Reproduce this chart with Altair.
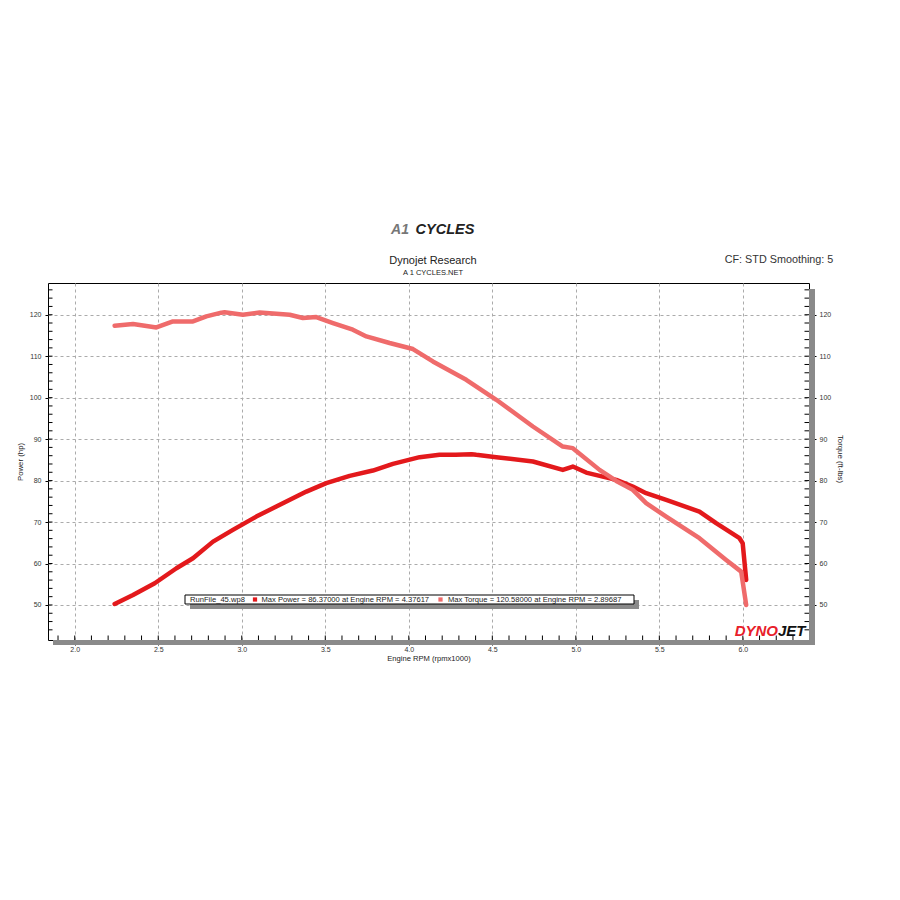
import altair as alt
import pandas as pd

FONT = "Liberation Sans"
W, H = 761, 357

# ---- data ----
rpm_power = [2.239, 2.349, 2.479, 2.609, 2.708, 2.828, 2.947, 3.087, 3.207, 3.387,
             3.506, 3.646, 3.785, 3.905, 4.065, 4.184, 4.28, 4.376, 4.404, 4.524,
             4.743, 4.922, 4.982, 5.062, 5.242, 5.341, 5.421, 5.541, 5.740, 5.840,
             5.980, 5.999, 6.020]
power_hp = [50.24, 52.41, 55.24, 58.86, 61.27, 65.28, 68.10, 71.31, 73.73, 77.35,
            79.37, 81.14, 82.42, 84.03, 85.65, 86.21, 86.25, 86.37, 86.21, 85.65,
            84.59, 82.58, 83.38, 81.93, 80.17, 78.55, 76.96, 75.34, 72.52, 69.72,
            66.10, 64.89, 56.03]

rpm_torque = [2.239, 2.349, 2.489, 2.588, 2.708, 2.788, 2.878, 2.897, 3.007, 3.107,
              3.287, 3.366, 3.446, 3.546, 3.665, 3.746, 3.885, 4.025, 4.144, 4.344,
              4.524, 4.743, 4.922, 4.982, 5.142, 5.242, 5.341, 5.421, 5.541, 5.740,
              5.900, 5.990, 6.020]
torque_ftlb = [117.34, 117.75, 116.93, 118.38, 118.38, 119.59, 120.50, 120.58, 120.00, 120.55,
               120.00, 119.20, 119.44, 117.99, 116.38, 114.76, 113.17, 111.72, 108.73, 104.31,
               99.48, 93.04, 88.21, 87.82, 82.58, 79.90, 77.76, 74.55, 71.31, 66.10,
               60.86, 58.04, 50.00]

max_power, max_power_rpm = 86.37, 4.37617
max_torque, max_torque_rpm = 120.58, 2.89687
run_file = "RunFile_45.wp8"

x_major = [2.0, 2.5, 3.0, 3.5, 4.0, 4.5, 5.0, 5.5, 6.0]
x_minor = [round(1.9 + 0.1 * i, 1) for i in range(45)]
y_major = [50, 60, 70, 80, 90, 100, 110, 120]
y_minor = list(range(44, 128, 2))

XDOM = [1.840, 6.396]
YDOM = [41.55, 127.65]

POWER_C = "#E3191C"
TORQUE_C = "#EF6B6B"

xs = alt.Scale(domain=XDOM, nice=False, zero=False)
ys = alt.Scale(domain=YDOM, nice=False, zero=False)

power_df = pd.DataFrame({"rpm": rpm_power, "val": power_hp})
torque_df = pd.DataFrame({"rpm": rpm_torque, "val": torque_ftlb})

power_line = alt.Chart(power_df).mark_line(color=POWER_C, strokeWidth=4.5, strokeCap="round", strokeJoin="round").encode(
    x=alt.X("rpm:Q", scale=xs, axis=alt.Axis(
        values=x_major, format=".1f", title=None, domain=False, tickSize=5, tickColor="black",
        labelPadding=0, grid=True, gridDash=[3, 3], gridColor="#ababab", labelFontSize=7,
        labelColor="#333")),
    y=alt.Y("val:Q", scale=ys, axis=alt.Axis(
        values=y_major, format="d", title=None, domain=False, tickSize=3, tickColor="black",
        labelPadding=4, grid=True, gridDash=[3, 3], gridColor="#ababab", labelFontSize=7,
        labelColor="#333", orient="left")),
)

torque_line = alt.Chart(torque_df).mark_line(color=TORQUE_C, strokeWidth=4.5, strokeCap="round", strokeJoin="round").encode(
    x=alt.X("rpm:Q", scale=xs, axis=None),
    y=alt.Y("val:Q", scale=ys, axis=alt.Axis(
        values=y_major, format="d", title=None, domain=False, tickSize=7, tickColor="black",
        labelPadding=3, grid=False, labelFontSize=7, labelColor="#333", orient="right")),
)

one = pd.DataFrame({"k": [0]})

def box(x, x2, y, y2, color, stroke=None):
    kw = {}
    if stroke:
        kw = {"stroke": stroke, "strokeWidth": 1}
    return alt.Chart(one).mark_rect(color=color, **kw).encode(
        x=alt.value(x), x2=alt.value(x2), y=alt.value(y), y2=alt.value(y2))

shadow_bottom = box(5, 767, H, H + 5, "#8a8a8a")
shadow_right = box(W, 767, 6, H + 5, "#8a8a8a")

bottom_ticks = alt.Chart(pd.DataFrame({"t": x_minor})).mark_rule(color="black", strokeWidth=1).encode(
    x=alt.X("t:Q", scale=xs, axis=None), y=alt.value(H), y2=alt.value(H - 4.5))
left_ticks = alt.Chart(pd.DataFrame({"t": y_minor})).mark_rule(color="black", strokeWidth=1).encode(
    y=alt.Y("t:Q", scale=ys, axis=None), x=alt.value(0), x2=alt.value(4.5))
right_ticks = alt.Chart(pd.DataFrame({"t": y_minor})).mark_rule(color="black", strokeWidth=1).encode(
    y=alt.Y("t:Q", scale=ys, axis=None), x=alt.value(W - 4.5), x2=alt.value(W))


def txt(s, x, y, size, color="#222", align="center", baseline="middle", **kw):
    return alt.Chart(pd.DataFrame({"t": [s]})).mark_text(
        font=FONT, fontSize=size, color=color, align=align, baseline=baseline, **kw
    ).encode(text="t:N", x=alt.value(x), y=alt.value(y))

# legend box
leg_shadow = box(142, 591, 317, 326, "#8a8a8a")
leg_box = box(137, 586, 312, 321, "white", stroke="black")
leg_sq1 = alt.Chart(one).mark_square(color=POWER_C, size=18, opacity=1).encode(x=alt.value(207), y=alt.value(316.5))
leg_sq2 = alt.Chart(one).mark_square(color=TORQUE_C, size=18, opacity=1).encode(x=alt.value(392.5), y=alt.value(316.5))
leg_t0 = txt(run_file, 142, 316.5, 7.6, align="left")
leg_t1 = txt(f"Max Power = {max_power:.5f} at Engine RPM = {max_power_rpm:.5f}", 213.5, 316.5, 7.6, align="left")
leg_t2 = txt(f"Max Torque = {max_torque:.5f} at Engine RPM = {max_torque_rpm:.5f}", 400, 316.5, 7.6, align="left")

# titles and header
t_power = txt("Power (hp)", -27, 179, 7.8, angle=270)
t_torque = txt("Torque (ft-lbs)", 792, 176, 7.8, angle=90)
t_rpm = txt("Engine RPM (rpmx1000)", 381, 376, 7.6)
t_head = txt("Dynojet Research", 385, -22, 11)
t_sub = txt("A 1 CYCLES.NET", 385, -10, 7.5)
t_cf = txt("CF: STD Smoothing: 5", 731, -23, 10.8, color="#333")
logo_a1 = txt("A1", 352, -53, 14, color="#777", fontStyle="italic", fontWeight="bold")
logo_cy = txt("CYCLES", 397, -53, 14.5, color="#222", fontStyle="italic", fontWeight="bold")
dyno = txt("DYNO", 730, 353, 15, color="#E8202A", align="right", baseline="alphabetic",
           fontStyle="italic", fontWeight="bold")
jet = txt("JET", 730, 353, 15, color="#111", align="left", baseline="alphabetic",
          fontStyle="italic", fontWeight="bold")

chart = alt.layer(
    shadow_bottom, shadow_right,
    power_line, torque_line,
    bottom_ticks, left_ticks, right_ticks,
    leg_shadow, leg_box, leg_sq1, leg_sq2, leg_t0, leg_t1, leg_t2,
    t_power, t_torque, t_rpm, t_head, t_sub, t_cf, logo_a1, logo_cy, dyno, jet,
).resolve_axis(x="independent", y="independent").properties(
    width=W, height=H,
    autosize=alt.AutoSizeParams(type="none"),
    padding={"left": 48, "top": 283, "right": 91, "bottom": 260},
    background="white",
).configure_view(stroke="black", strokeWidth=1).configure_axis(
    labelFont=FONT, titleFont=FONT
)

chart.save("out.html", embed_options={"renderer": "svg", "actions": False})
